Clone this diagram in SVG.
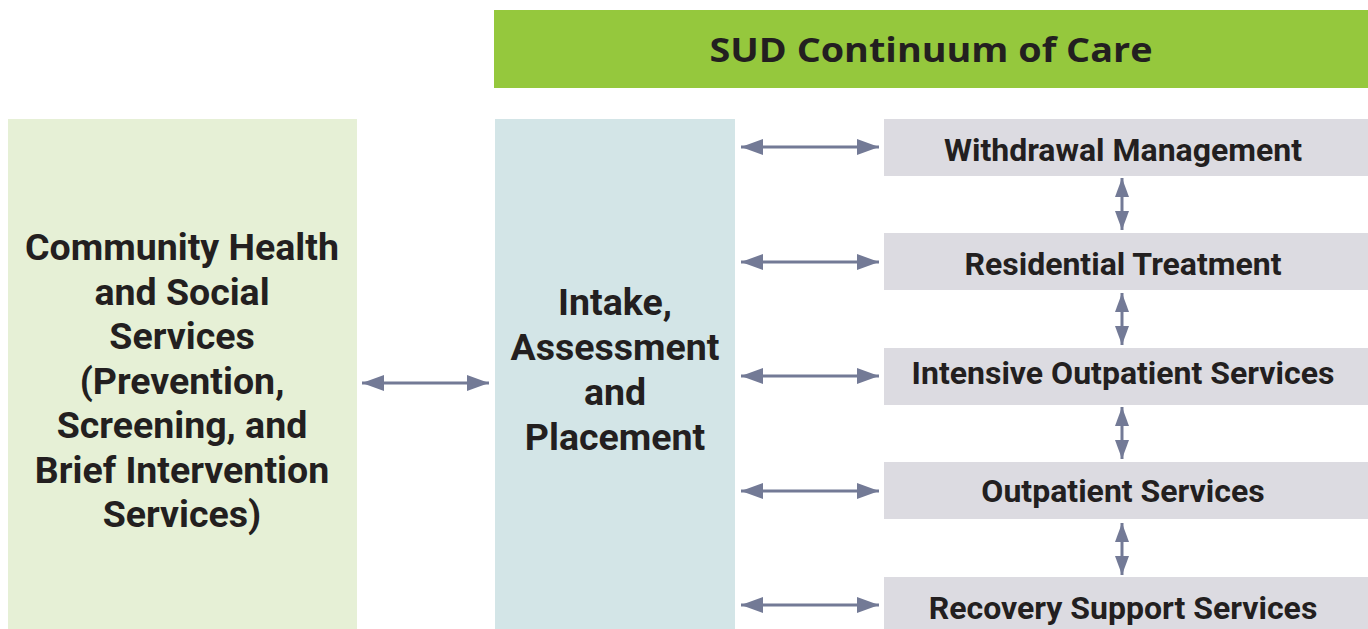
<svg xmlns="http://www.w3.org/2000/svg" width="1368" height="629" viewBox="0 0 1368 629">
<style>
.t{font-family:Roboto,"Liberation Sans",sans-serif;font-weight:700;fill:#231f20;text-anchor:middle}
.big{font-size:37.5px}
.mid{font-size:32px}
.ttl{font-family:"Open Sans",Roboto,"Liberation Sans",sans-serif;font-weight:700;font-size:34px;fill:#231f20;text-anchor:middle}
.c{stroke:#737a96;stroke-width:3;fill:none}
</style>
<defs>
<marker id="ah" viewBox="0 0 22 16" refX="22" refY="8" markerWidth="22" markerHeight="16" markerUnits="userSpaceOnUse" orient="auto-start-reverse">
<path d="M0,0 L22,8 L0,16 z" fill="#737a96"/>
</marker>
<marker id="av" viewBox="0 0 19 14" refX="19" refY="7" markerWidth="19" markerHeight="14" markerUnits="userSpaceOnUse" orient="auto-start-reverse">
<path d="M0,0 L19,7 L0,14 z" fill="#737a96"/>
</marker>
</defs>
<rect width="1368" height="629" fill="#ffffff"/>
<g id="title">
<rect x="494" y="10" width="874" height="78" fill="#95c83d"/>
<text class="ttl" x="931" y="62" textLength="443" lengthAdjust="spacingAndGlyphs">SUD Continuum of Care</text>
</g>
<g id="community">
<rect x="8" y="119" width="349" height="510" fill="#e6f0d6"/>
<text class="t big" x="182" y="260">Community Health</text>
<text class="t big" x="182" y="305">and Social</text>
<text class="t big" x="182" y="349">Services</text>
<text class="t big" x="182" y="394">(Prevention,</text>
<text class="t big" x="182" y="438">Screening, and</text>
<text class="t big" x="182" y="483">Brief Intervention</text>
<text class="t big" x="182" y="527">Services)</text>
</g>
<g id="intake">
<rect x="495" y="119" width="240" height="510" fill="#d3e5e7"/>
<text class="t big" x="615" y="315">Intake,</text>
<text class="t big" x="615" y="360">Assessment</text>
<text class="t big" x="615" y="405">and</text>
<text class="t big" x="615" y="450">Placement</text>
</g>
<g id="withdrawal">
<rect x="884" y="119" width="484" height="57" fill="#dcdbe1"/>
<text class="t mid" x="1123" y="161">Withdrawal Management</text>
</g>
<g id="residential">
<rect x="884" y="233" width="484" height="57" fill="#dcdbe1"/>
<text class="t mid" x="1123" y="275">Residential Treatment</text>
</g>
<g id="intensive">
<rect x="884" y="348" width="484" height="57" fill="#dcdbe1"/>
<text class="t mid" x="1123" y="384">Intensive Outpatient Services</text>
</g>
<g id="outpatient">
<rect x="884" y="462" width="484" height="57" fill="#dcdbe1"/>
<text class="t mid" x="1123" y="502">Outpatient Services</text>
</g>
<g id="recovery">
<rect x="884" y="577" width="484" height="52" fill="#dcdbe1"/>
<text class="t mid" x="1123" y="619">Recovery Support Services</text>
</g>
<g id="connectors">
<line class="c" x1="362" y1="383" x2="489" y2="383" marker-start="url(#ah)" marker-end="url(#ah)"/>
<line class="c" x1="741" y1="147" x2="879" y2="147" marker-start="url(#ah)" marker-end="url(#ah)"/>
<line class="c" x1="741" y1="262" x2="879" y2="262" marker-start="url(#ah)" marker-end="url(#ah)"/>
<line class="c" x1="741" y1="376" x2="879" y2="376" marker-start="url(#ah)" marker-end="url(#ah)"/>
<line class="c" x1="741" y1="491" x2="879" y2="491" marker-start="url(#ah)" marker-end="url(#ah)"/>
<line class="c" x1="741" y1="605" x2="879" y2="605" marker-start="url(#ah)" marker-end="url(#ah)"/>
<line class="c" x1="1122" y1="178" x2="1122" y2="230" marker-start="url(#av)" marker-end="url(#av)"/>
<line class="c" x1="1122" y1="293" x2="1122" y2="345" marker-start="url(#av)" marker-end="url(#av)"/>
<line class="c" x1="1122" y1="407" x2="1122" y2="459" marker-start="url(#av)" marker-end="url(#av)"/>
<line class="c" x1="1122" y1="523" x2="1122" y2="575" marker-start="url(#av)" marker-end="url(#av)"/>
</g>
</svg>
